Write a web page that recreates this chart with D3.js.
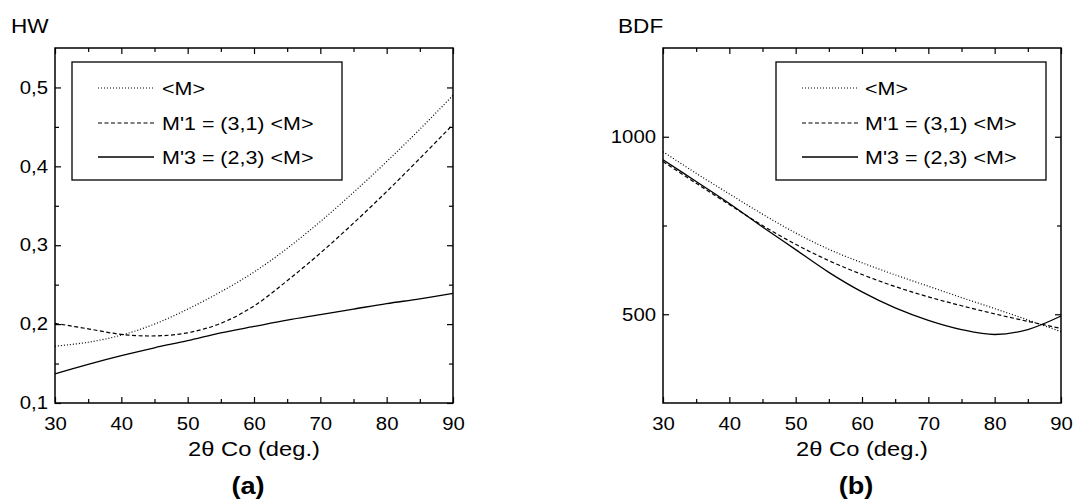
<!DOCTYPE html>
<html><head><meta charset="utf-8">
<script src="https://cdn.jsdelivr.net/npm/d3@7"></script>
<style>body{margin:0;background:#fff}svg{display:block}text{font-family:"Liberation Sans",Arial,sans-serif;fill:#000}</style>
</head><body><svg id="c" width="1073" height="501"></svg>
<script>
// ---- data ----
const angles = [30,35,40,45,50,55,60,65,70,75,80,85,90];
const seriesNames = ["<M>", "M'1 = (3,1) <M>", "M'3 = (2,3) <M>"];
const hwMean = [0.172,0.177,0.186,0.200,0.219,0.241,0.266,0.296,0.330,0.367,0.406,0.447,0.490];
const hwM1   = [0.201,0.194,0.187,0.185,0.189,0.201,0.223,0.255,0.290,0.328,0.368,0.410,0.453];
const hwM3   = [0.137,0.149,0.160,0.170,0.179,0.189,0.197,0.205,0.212,0.219,0.226,0.232,0.239];
const bdfMean = [958,897,839,782,729,683,645,611,579,547,516,484,451];
const bdfM1   = [930,869,809,750,697,651,612,578,549,524,501,480,460];
const bdfM3   = [935,874,812,746,682,618,563,518,483,457,443,457,495];
const xMajorTicks = [30,40,50,60,70,80,90];
const xMinorTicks = [35,45,55,65,75,85];
const hwMajorTicks = [0.1,0.2,0.3,0.4,0.5];
const hwTickLabels = ["0,1","0,2","0,3","0,4","0,5"];
const hwMinorTicks = [0.15,0.25,0.35,0.45];
const bdfMajorTicks = [500,1000];
const bdfTickLabels = ["500","1000"];
const bdfMinorTicks = [750];

// ---- layout ----
const SX = 1.13;
const svg = d3.select("#c");
const dashes = ["1,2", "4,2.5", null];

function panel(o){
  const x = d3.scaleLinear().domain([30,90]).range([o.left,o.right]);
  const y = d3.scaleLinear().domain(o.yDomain).range([403,48]);
  const g = svg.append("g");
  const MAJ=6, MIN=4;
  const bx = g.append("g").attr("transform",`translate(0,${y.range()[0]})`)
    .call(d3.axisBottom(x).tickValues(xMajorTicks).tickSize(-MAJ).tickPadding(14).tickFormat(d3.format("d")));
  g.append("g").attr("transform",`translate(0,${y.range()[0]})`)
    .call(d3.axisBottom(x).tickValues(xMinorTicks).tickSize(-MIN).tickFormat(""));
  g.append("g").attr("transform",`translate(0,${y.range()[1]})`)
    .call(d3.axisTop(x).tickValues(xMajorTicks).tickSize(-MAJ).tickFormat(""));
  g.append("g").attr("transform",`translate(0,${y.range()[1]})`)
    .call(d3.axisTop(x).tickValues(xMinorTicks).tickSize(-MIN).tickFormat(""));
  const ly = g.append("g").attr("transform",`translate(${o.left},0)`)
    .call(d3.axisLeft(y).tickValues(o.major).tickSize(-MAJ).tickPadding(7).tickFormat((d,i)=>o.labels[i]));
  g.append("g").attr("transform",`translate(${o.left},0)`)
    .call(d3.axisLeft(y).tickValues(o.minor).tickSize(-MIN).tickFormat(""));
  g.append("g").attr("transform",`translate(${o.right},0)`)
    .call(d3.axisRight(y).tickValues(o.major).tickSize(-MAJ).tickFormat(""));
  g.append("g").attr("transform",`translate(${o.right},0)`)
    .call(d3.axisRight(y).tickValues(o.minor).tickSize(-MIN).tickFormat(""));
  g.selectAll(".domain").remove();
  g.selectAll(".tick line").attr("stroke","#000").attr("stroke-width",1.2);
  g.selectAll(".tick text").attr("font-size",18).attr("font-family",'"Liberation Sans",Arial,sans-serif').attr("fill","#000");
  bx.selectAll(".tick text").attr("transform",`scale(${SX},1)`).attr("x",0);
  ly.selectAll(".tick text").attr("transform",`scale(${SX},1)`).attr("x",-7/SX);
  g.append("rect").attr("x",o.left).attr("y",48).attr("width",o.right-o.left).attr("height",403-48)
    .attr("fill","none").attr("stroke","#000").attr("stroke-width",1.5);
  const line = d3.line().x((d,i)=>x(angles[i])).y(d=>y(d)).curve(d3.curveCatmullRom.alpha(0.5));
  o.series.forEach((s,k)=>{
    g.append("path").attr("d",line(s)).attr("fill","none").attr("stroke","#000")
      .attr("stroke-width",k===2?1.3:1.2).attr("stroke-dasharray",dashes[k]);
  });
  const L = o.legend;
  g.append("rect").attr("x",L.x0).attr("y",62).attr("width",L.x1-L.x0).attr("height",118)
    .attr("fill","#fff").attr("stroke","#000").attr("stroke-width",1.3);
  const rows=[88,123,157];
  seriesNames.forEach((nm,k)=>{
    g.append("line").attr("x1",L.lx0).attr("x2",L.lx1).attr("y1",rows[k]).attr("y2",rows[k])
      .attr("stroke","#000").attr("stroke-width",k===2?1.3:1.2).attr("stroke-dasharray",dashes[k]);
    g.append("text").attr("transform",`translate(${L.tx},${rows[k]+6.8}) scale(${SX},1)`)
      .attr("font-size",19).text(nm);
  });
  g.append("text").attr("transform",`translate(${o.titleX},33) scale(${SX},1)`).attr("font-size",20).text(o.title);
  const cx=(o.left+o.right)/2;
  const xt = g.append("text").attr("transform",`translate(${cx},456) scale(${SX},1)`).attr("font-size",21).attr("text-anchor","middle");
  xt.append("tspan").text("2");
  xt.append("tspan").text("θ");
  xt.append("tspan").text(" Co (deg.)");
  g.append("text").attr("transform",`translate(${cx-6},494) scale(${SX},1)`).attr("font-size",24)
    .attr("font-weight","bold").attr("text-anchor","middle").text(o.tag);
}

panel({left:55,right:453,yDomain:[0.1,0.55],major:hwMajorTicks,labels:hwTickLabels,minor:hwMinorTicks,
  series:[hwMean,hwM1,hwM3],legend:{x0:72,x1:342,lx0:98,lx1:154,tx:162},title:"HW",titleX:11,tag:"(a)"});
panel({left:663,right:1061,yDomain:[250,1250],major:bdfMajorTicks,labels:bdfTickLabels,minor:bdfMinorTicks,
  series:[bdfMean,bdfM1,bdfM3],legend:{x0:776,x1:1046,lx0:802,lx1:858,tx:865},title:"BDF",titleX:618,tag:"(b)"});
</script></body></html>
